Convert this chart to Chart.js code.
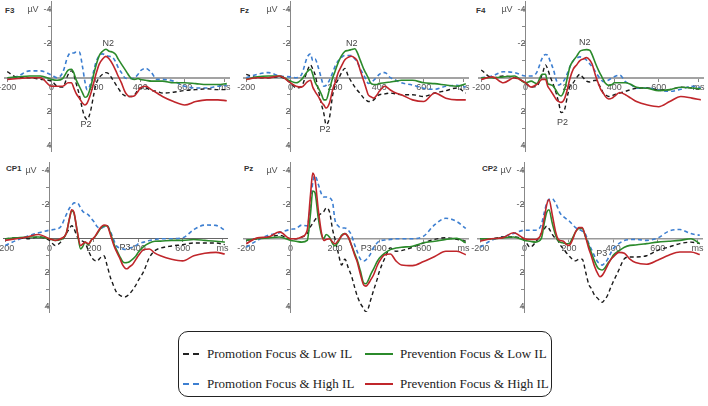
<!DOCTYPE html>
<html>
<head>
<meta charset="utf-8">
<script src="https://cdn.jsdelivr.net/npm/chart.js@4.4.0/dist/chart.umd.min.js"></script>
<style>
  body { margin: 0; background: #fff; width: 708px; height: 406px; overflow: hidden; position: relative; font-family: "Liberation Sans", Arial, sans-serif; }
  canvas { position: absolute; }
  .site { position: absolute; font-size: 8px; font-weight: bold; color: #333; }
  #legend { position: absolute; left: 178px; top: 331px; width: 372px; height: 64px; border: 1.6px solid #222; border-radius: 10px; font-family: "Liberation Serif", "Times New Roman", serif; font-size: 13px; color: #222; }
  .item { position: absolute; white-space: nowrap; line-height: 16px; }
  .sw { position: absolute; top: 7px; height: 2px; }
  .dash { width: 16px; }
  .solid { width: 28px; }
</style>
</head>
<body>
<div class="site" style="left:5px;top:6px">F3</div>
<div class="site" style="left:240px;top:6px">Fz</div>
<div class="site" style="left:476px;top:6px">F4</div>
<div class="site" style="left:6px;top:164px">CP1</div>
<div class="site" style="left:244px;top:164px">Pz</div>
<div class="site" style="left:482px;top:164px">CP2</div>

<div id="legend">
  <div class="item" style="left:4px;top:14px"><span class="sw dash" style="left:0;background:repeating-linear-gradient(90deg,#222 0 6px,transparent 6px 10px)"></span><span style="margin-left:24px">Promotion Focus &amp; Low IL</span></div>
  <div class="item" style="left:4px;top:44px"><span class="sw dash" style="left:0;background:repeating-linear-gradient(90deg,#3d7fd1 0 6px,transparent 6px 10px)"></span><span style="margin-left:24px">Promotion Focus &amp; High IL</span></div>
  <div class="item" style="left:186px;top:14px"><span class="sw solid" style="left:0;background:#2b8a2b"></span><span style="margin-left:35px">Prevention Focus &amp; Low IL</span></div>
  <div class="item" style="left:186px;top:44px"><span class="sw solid" style="left:0;background:#c0262b"></span><span style="margin-left:35px">Prevention Focus &amp; High IL</span></div>
</div>

<script>
// time points (ms) shared by every waveform
const timeMs = [-200,-150,-100,-50, 0,25,50,75, 90,100,110,125, 140,150,160,175, 190,200,215,230,
  245,260,275,290, 300,315,330,340, 350,360,375,390, 400,425,450,475, 500,550,600,650, 700,750,790];

// amplitudes in µV (negative = up)
const f3PromLow  = [-0.35,0,0,0.1, 0.2,0.5,0.55,-0.2, -0.4,-0.2,0.3,1.0, 1.9,2.3,2.45,2.0, 1.0,0.4,0,-0.2, -0.3,-0.2,0.1,0.4, 0.6,0.9,1.05,1.1, 1.1,1.1,1.0,0.7, 0.6,0.6,0.75,0.8, 0.9,0.85,0.75,0.7, 0.65,0.7,0.7];
const f3PromHigh = [0.1,-0.1,-0.4,-0.4, -0.15,0,-0.3,-1.3, -1.45,-1.45,-1.5,-1.5, -0.6,0.2,0.7,0.4, -0.4,-0.9,-1.3,-1.4, -1.3,-1.25,-1.2,-0.9, -0.6,-0.3,0,0.05, 0.05,0.05,0,-0.2, -0.4,-0.55,-0.3,0.1, 0.1,0.2,0.5,0.6, 0.6,0.5,0.45];
const f3PrevLow  = [0,-0.05,-0.1,-0.1, 0.1,0.15,0.05,-0.45, -0.5,-0.3,0.1,0.5, 0.9,1.15,1.1,0.6, -0.2,-0.7,-1.3,-1.55, -1.67,-1.55,-1.5,-1.35, -1.1,-0.8,-0.5,-0.3, -0.1,0.05,0.1,0.05, 0.1,0.15,0.2,0.2, 0.2,0.3,0.3,0.35, 0.4,0.4,0.35];
const f3PrevHigh = [0.1,0.05,0,0, 0.5,0.5,0.5,0.3, 0.3,0.6,0.9,1.2, 1.5,1.6,1.5,1.0, 0.3,-0.2,-0.8,-1.1, -1.25,-1.1,-0.8,-0.4, -0.1,0.3,0.8,1.0, 1.1,1.1,1.05,0.8, 0.6,0.5,0.7,0.9, 1.1,1.4,1.6,1.4, 1.3,1.3,1.35];

const fzPromLow  = [-0.2,0,0,-0.05, 0.3,0.6,0.5,-0.4, -0.75,-0.5,-0.2,0.7, 1.6,2.1,2.75,2.37, 1.0,0.5,0.1,-0.3, -0.55,-0.1,0.25,0.55, 0.72,0.95,1.2,1.3, 1.4,1.4,1.3,1.1, 1.0,0.95,0.9,0.95, 1.0,1.0,1.1,0.9, 0.76,0.6,0.9];
const fzPromHigh = [0,-0.2,-0.3,-0.1, -0.05,0,-0.2,-1.2, -1.4,-1.0,-1.1,-0.6, 0.1,0.5,0.45,0.15, -0.3,-0.65,-1.0,-1.2, -1.3,-1.3,-1.3,-1.1, -0.93,-0.5,-0.15,0.1, 0.33,0.3,0.15,-0.05, -0.2,-0.3,0,0.15, 0.3,0.43,0.62,0.68, 0.5,0.45,0.55];
const fzPrevLow  = [0.1,-0.05,-0.1,-0.1, 0.2,0.3,0.1,-0.35, -0.5,-0.2,0.25,0.6, 1.0,1.3,1.3,0.7, 0,-0.35,-0.9,-1.3, -1.55,-1.6,-1.65,-1.7, -1.5,-1.0,-0.5,-0.25, 0,0.3,0.4,0.4, 0.33,0.3,0.25,0.2, 0.15,0.15,0.3,0.35, 0.43,0.5,0.35];
const fzPrevHigh = [0.1,0,0,-0.1, 0.3,0.5,0.55,0.25, 0.15,0.55,0.8,1.1, 1.45,1.6,1.78,1.5, 0.7,0.33,-0.3,-0.7, -1.05,-1.2,-1.26,-1.15, -1.0,-0.4,0.2,0.6, 1.0,1.1,1.2,1.0, 0.8,0.5,0.72,0.9, 1.0,1.3,1.4,0.9, 1.2,1.3,1.3];

const f4PromLow  = [-0.45,0,-0.1,0, 0.3,0.55,0.5,-0.2, -0.75,-0.5,-0.1,0.4, 1.0,1.5,2.05,1.9, 1.0,0.5,0.3,0, -0.2,0,0.2,0.25, 0.2,0.15,0.4,0.6, 0.9,1.0,1.1,1.05, 1.0,0.9,0.8,0.7, 0.62,0.6,0.72,0.7, 0.56,0.6,0.7];
const f4PromHigh = [0,-0.1,-0.35,-0.3, -0.1,-0.1,-0.3,-1.15, -1.36,-1.32,-1.0,-0.5, 0.2,0.43,0.35,0.13, -0.3,-0.64,-1.0,-1.15, -1.22,-1.15,-1.03,-0.8, -0.64,-0.35,-0.05,0.1, 0.23,0.2,0.13,0, -0.06,-0.15,0.23,0.4, 0.62,0.6,0.72,0.8, 0.68,0.5,0.6];
const f4PrevLow  = [0,0,-0.05,-0.1, 0.3,0.2,0.35,-0.2, -0.2,0.33,0.4,0.5, 0.8,1.0,1.07,0.72, -0.1,-0.64,-1.0,-1.25, -1.55,-1.62,-1.65,-1.6, -1.35,-0.85,-0.4,-0.15, 0.1,0.33,0.45,0.4, 0.3,0.3,0.3,0.4, 0.56,0.62,0.76,0.7, 0.56,0.6,0.65];
const f4PrevHigh = [0.1,-0.05,0.3,0, 0.3,0.55,0.4,0.1, 0.1,0.5,0.7,1.0, 1.3,1.4,1.45,1.25, 0.6,0.05,-0.5,-0.75, -1.0,-1.1,-1.18,-1.03, -0.8,-0.15,0.4,0.72, 0.9,1.1,1.25,1.2, 1.1,0.87,1.0,1.2, 1.4,1.6,1.7,1.4, 1.1,1.2,1.3];

const cp1PromLow  = [0,-0.05,0,-0.1, 0.1,0.4,0.2,-0.3, -0.6,-0.76,-0.6,-0.1, 0.1,0.15,0.25,0.7, 1.1,1.25,1.3,1.1, 1.0,1.6,2.3,2.8, 3.1,3.3,3.4,3.41, 3.35,3.25,3.0,2.7, 2.45,1.9,1.1,0.7, 0.55,0.43,0.35,0.25, 0.25,0.25,0.35];
const cp1PromHigh = [0.4,0.1,-0.15,-0.35, -0.5,-0.55,-0.7,-1.4, -1.8,-1.95,-2.1,-2.1, -1.8,-1.6,-1.5,-1.4, -1.15,-1.0,-0.7,-0.6, -0.7,-0.75,-0.4,0.1, 0.4,0.55,0.6,0.63, 0.6,0.55,0.5,0.4, 0.3,0.2,0.1,0.05, 0,0,-0.05,-0.53, -0.8,-0.78,-0.5];
const cp1PrevLow  = [0,-0.05,-0.1,-0.1, 0,0.1,0.05,-0.3, -1.2,-1.65,-1.5,-0.4, 0.6,0.45,0.2,0.35, 0.05,-0.05,-0.3,-0.6, -0.75,-0.75,-0.3,0.3, 0.6,1.0,1.35,1.41, 1.4,1.35,1.2,1.0, 0.8,0.45,0.25,0.15, 0.14,0.1,0.1,0.05, 0.1,0.15,0.2];
const cp1PrevHigh = [0.1,0,-0.1,-0.25, 0,0.1,0,-0.3, -1.2,-1.7,-1.55,-0.4, 0.4,0.3,0.2,0.3, 0.05,-0.05,-0.35,-0.65, -0.8,-0.75,-0.2,0.4, 0.7,1.1,1.55,1.72, 1.76,1.65,1.5,1.2, 1.0,0.63,0.6,0.85, 1.0,1.2,1.3,1.0, 0.85,0.8,0.9];

const pzPromLow  = [0.1,0,-0.1,-0.2, 0,0,-0.1,-0.3, -0.7,-0.9,-1.1,-1.35, -1.5,-1.6,-1.8,-1.6, -0.5,0,0.84,1.54, 1.2,1.7,2.2,2.9, 3.34,3.8,4.1,4.3, 4.1,3.64,3.0,2.4, 1.94,1.14,0.54,0.74, 0.7,0.5,0.24,0.04, -0.06,0.04,0.14];
const pzPromHigh = [0.5,0.1,-0.2,-0.35, -0.55,-0.6,-0.8,-0.75, -2.0,-3.3,-3.7,-3.2, -2.6,-2.45,-2.45,-2.4, -2.1,-1.1,-0.75,-0.63, -0.63,-0.5,-0.2,0.4, 0.74,1.2,1.3,1.24, 1.1,0.9,0.5,0.25, 0.14,0.08,0.04,0, 0,0,-0.15,-0.82, -1.2,-1.0,-0.6];
const pzPrevLow  = [0.1,0,-0.05,-0.1, 0.1,0.15,0.2,0.1, -1.5,-2.8,-2.7,-1.2, -0.2,0,-0.25,-0.1, 0.3,0.42,0.2,-0.2, -0.3,-0.1,0.4,0.9, 1.24,1.9,2.6,2.64, 2.45,2.14,1.75,1.35, 1.14,0.84,0.64,0.55, 0.5,0.44,0.24,0.15, 0.04,-0.02,0.24];
const pzPrevHigh = [0.3,-0.05,-0.1,-0.4, 0,0,-0.1,-0.5, -2.6,-3.85,-3.5,-1.7, -0.3,0.1,0.05,0, 0.2,0.3,0.1,-0.15, -0.3,-0.1,0.4,1.0, 1.34,2.1,2.72,2.78, 2.65,2.44,2.1,1.6, 1.34,0.94,0.9,1.3, 1.54,1.58,1.34,1.04, 0.74,0.74,0.94];

const cp2PromLow  = [0,0,-0.1,-0.1, 0.1,0.5,0.2,-0.3, -0.6,-0.73,-0.6,-0.25, 0,0.1,0.35,0.6, 0.85,1.0,1.2,1.3, 1.2,1.2,1.94,2.7, 2.9,3.3,3.5,3.65, 3.73,3.6,3.3,2.8, 2.52,1.84,1.17,1.07, 1.07,1.0,0.68,0.49, 0.29,0.2,0.29];
const cp2PromHigh = [0.5,0.1,-0.1,-0.3, -0.5,-0.5,-0.5,-0.8, -1.6,-2.1,-2.3,-2.35, -2.08,-1.8,-1.5,-1.3, -1.15,-1.05,-0.85,-0.65, -0.54,-0.45,-0.25,0.3, 0.58,1.0,1.36,1.45, 1.55,1.45,1.2,0.8, 0.58,0.29,0.1,0.05, 0.04,0.1,-0.04,-0.44, -0.54,-0.3,-0.2];
const cp2PrevLow  = [0,0,-0.05,-0.1, 0.1,0.15,0.2,0, -1.0,-1.55,-1.7,-0.9, -0.2,0.1,0.2,0.25, 0.3,0.3,0,-0.4, -0.6,-0.6,-0.1,0.4, 0.78,1.3,1.7,1.8, 1.84,1.75,1.45,1.2, 0.97,0.72,0.5,0.39, 0.37,0.29,0.2,0.15, 0.1,0,0.29];
const cp2PrevHigh = [0.15,0,-0.05,-0.35, 0,0.05,0.05,-0.3, -1.3,-2.0,-2.3,-1.4, -0.4,0,0.1,0.15, 0.35,0.4,0.1,-0.4, -0.65,-0.65,-0.1,0.6, 0.97,1.6,2.05,2.23, 2.15,1.94,1.55,1.2, 1.07,0.8,0.85,1.2, 1.4,1.5,1.26,0.97, 0.78,0.78,0.93];

// component labels [text, ms, µV]
const f3Marks  = [['N2', 255, -2.0], ['P2', 155, 2.75]];
const fzMarks  = [['N2', 276, -2.0], ['P2', 155, 3.05]];
const f4Marks  = [['N2', 267, -2.04], ['P2', 167, 2.62]];
const cp1Marks = [['P3', 340, 0.5]];
const pzMarks  = [['P3', 341, 0.6]];
const cp2Marks = [['P3', 348, 0.87]];

const xTicks = [-200, 0, 200, 400, 600, 780];
const yTicks = [-4, -3, -2, -1, 1, 2, 3, 4];

const msPx = 0.2222, uvPx = 17.1, pad = 24;
const xMin = -210, xMax = 800, yMin = -4.5, yMax = 4.3;

const panels = [
  { axisX: 52,  zeroY: 78,  line: '#a3a3a3', lw: 2,   data: [f3PromLow, f3PromHigh, f3PrevLow, f3PrevHigh], marks: f3Marks },
  { axisX: 291, zeroY: 78,  line: '#a3a3a3', lw: 2,   data: [fzPromLow, fzPromHigh, fzPrevLow, fzPrevHigh], marks: fzMarks },
  { axisX: 526, zeroY: 78,  line: '#a3a3a3', lw: 2,   data: [f4PromLow, f4PromHigh, f4PrevLow, f4PrevHigh], marks: f4Marks },
  { axisX: 50,  zeroY: 239, line: '#666',    lw: 1,   data: [cp1PromLow, cp1PromHigh, cp1PrevLow, cp1PrevHigh], marks: cp1Marks },
  { axisX: 291, zeroY: 239, line: '#999',    lw: 1.5, data: [pzPromLow, pzPromHigh, pzPrevLow, pzPrevHigh], marks: pzMarks },
  { axisX: 525, zeroY: 239, line: '#999',    lw: 1.5, data: [cp2PromLow, cp2PromHigh, cp2PrevLow, cp2PrevHigh], marks: cp2Marks }
];

const peakMarks = {
  id: 'peakMarks',
  afterDatasetsDraw(chart, args, opts) {
    const ctx = chart.ctx;
    ctx.save();
    ctx.font = '9px "Liberation Sans", Arial, sans-serif';
    ctx.fillStyle = '#444';
    ctx.textAlign = 'center';
    ctx.textBaseline = 'middle';
    opts.marks.forEach(m => {
      ctx.fillText(m[0], chart.scales.x.getPixelForValue(m[1]), chart.scales.y.getPixelForValue(m[2]));
    });
    ctx.restore();
  }
};

function toPoints(vals) {
  return timeMs.map((t, i) => ({ x: t, y: vals[i] }));
}

const tickFont = { family: '"Liberation Sans", Arial, sans-serif', size: 9 };

panels.forEach(p => {
  const c = document.createElement('canvas');
  const w = Math.round((xMax - xMin) * msPx) + 2 * pad;
  const h = Math.round((yMax - yMin) * uvPx) + 2 * pad;
  c.width = w; c.height = h;
  c.style.width = w + 'px'; c.style.height = h + 'px';
  c.style.left = Math.round(p.axisX + xMin * msPx - pad) + 'px';
  c.style.top = Math.round(p.zeroY + yMin * uvPx - pad) + 'px';
  document.body.appendChild(c);

  const [promLow, promHigh, prevLow, prevHigh] = p.data;
  new Chart(c.getContext('2d'), {
    type: 'line',
    data: {
      datasets: [
        { label: 'Prevention Focus & High IL', data: toPoints(prevHigh), borderColor: '#c0262b', borderWidth: 1.6 },
        { label: 'Prevention Focus & Low IL', data: toPoints(prevLow), borderColor: '#2b8a2b', borderWidth: 1.6 },
        { label: 'Promotion Focus & Low IL', data: toPoints(promLow), borderColor: '#1a1a1a', borderWidth: 1.4, borderDash: [4, 3] },
        { label: 'Promotion Focus & High IL', data: toPoints(promHigh), borderColor: '#3d7fd1', borderWidth: 1.6, borderDash: [4, 3] }
      ]
    },
    options: {
      responsive: false,
      animation: false,
      layout: { padding: pad },
      elements: { point: { radius: 0 }, line: { cubicInterpolationMode: 'monotone', fill: false } },
      plugins: { legend: { display: false }, tooltip: { enabled: false }, peakMarks: { marks: p.marks } },
      scales: {
        x: {
          type: 'linear', min: xMin, max: xMax, position: { y: 0 },
          afterBuildTicks: axis => { axis.ticks = xTicks.map(v => ({ value: v })); },
          ticks: { autoSkip: false, maxRotation: 0, padding: 1, color: '#555', font: tickFont,
                   callback: v => (v === 780 ? 'ms' : String(v)) },
          grid: { drawOnChartArea: false, tickLength: 3, color: '#888' },
          border: { color: p.line, width: p.lw }
        },
        y: {
          type: 'linear', reverse: true, min: yMin, max: yMax, position: { x: 0 },
          afterBuildTicks: axis => { axis.ticks = yTicks.map(v => ({ value: v })); },
          ticks: { autoSkip: false, padding: 3, color: '#555', font: tickFont,
                   callback: v => (v === -4 ? 'µV  -4' : (v % 2 === 0 ? String(v) : '')) },
          grid: { drawOnChartArea: false, tickLength: 3, color: '#888' },
          border: { color: '#888', width: 1 }
        }
      }
    },
    plugins: [peakMarks]
  });
});
</script>
</body>
</html>
